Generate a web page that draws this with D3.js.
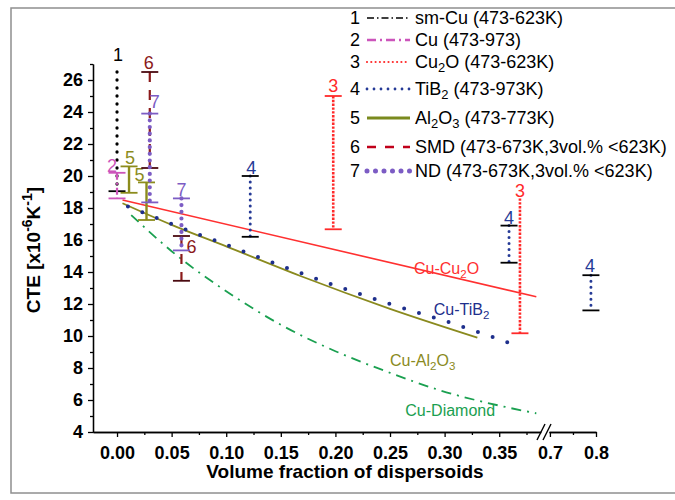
<!DOCTYPE html>
<html>
<head>
<meta charset="utf-8">
<script src="https://cdn.jsdelivr.net/npm/d3@7"></script>
<style>
  body { margin: 0; background: #fff; }
  svg { font-family: Arial, "Liberation Sans", sans-serif; }
</style>
</head>
<body>
<div id="chart"></div>
<script>
// ---- data ----
// fitted curves (volume fraction -> CTE)
const cu2oX = [0.005, 0.384];
const cu2oY = [18.5, 12.45];
const tib2X = [0.01, 0.05, 0.1, 0.15, 0.2, 0.25, 0.3, 0.343, 0.358];
const tib2Y = [18.1, 17.0, 15.7, 14.4, 13.15, 12.0, 10.95, 9.96, 9.6];
const al2o3X = [0.005, 0.05, 0.1, 0.168, 0.25, 0.33];
const al2o3Y = [18.3, 16.95, 15.6, 13.75, 11.7, 9.9];
const diamondX = [0.013, 0.05, 0.11, 0.15, 0.2, 0.25, 0.296, 0.35, 0.384];
const diamondY = [17.56, 15.3, 12.35, 10.7, 9.05, 7.7, 6.6, 5.65, 5.17];

// measured ranges (series number, x, low, high)
const barSeries = [1, 2, 5, 5, 6, 7, 6, 7, 4, 3, 4, 3, 4];
const barX = [0.0, 0.0, 0.011, 0.027, 0.03, 0.03, 0.059, 0.059, 0.122, 0.198, 0.359, 0.369, 0.789];
const barLow = [19.05, 18.6, 18.95, 17.25, 20.5, 18.35, 13.45, 15.35, 16.2, 16.67, 14.58, 10.17, 11.6];
const barHigh = [26.5, 20.2, 20.6, 19.6, 26.5, 23.9, 16.25, 18.6, 20.0, 25.0, 16.9, 18.6, 13.8];

// legend
const legendNums = [1, 2, 3, 4, 5, 6, 7];
const legendLabels = [
  [['sm-Cu (473-623K)', 0]],
  [['Cu (473-973)', 0]],
  [['Cu', 0], ['2', 1], ['O (473-623K)', 0]],
  [['TiB', 0], ['2', 1], [' (473-973K)', 0]],
  [['Al', 0], ['2', 1], ['O', 0], ['3', 1], [' (473-773K)', 0]],
  [['SMD (473-673K,3vol.% <623K)', 0]],
  [['ND (473-673K,3vol.% <623K)', 0]]
];

// axis ticks
const yMajor = [4, 6, 8, 10, 12, 14, 16, 18, 20, 22, 24, 26];
const yMinor = [5, 7, 9, 11, 13, 15, 17, 19, 21, 23, 25, 27];
const xMajorLeft = [0, 0.05, 0.1, 0.15, 0.2, 0.25, 0.3, 0.35];
const xMinorLeft = [0.025, 0.075, 0.125, 0.175, 0.225, 0.275, 0.325, 0.375];
const xMajorRight = [0.7, 0.8];
const xMinorRight = [0.75];

// ---- styles ----
const seriesColor = {1: '#000000', 2: '#cc55bb', 3: '#ff2a2a', 4: '#253a96', 5: '#8c8c1c', 6: '#8b1a1a', 7: '#7c5cc4'};
const capColor = {1: '#000000', 2: '#cc55bb', 3: '#ff2a2a', 4: '#000000', 5: '#8c8c1c', 6: '#4a0a10', 7: '#7c5cc4'};
const barStyle = {
  1: {w: 3.3, dash: '0 8', cap: 'round'},
  2: {w: 2.2, dash: '7 3 2 3', cap: 'butt'},
  3: {w: 2.6, dash: '2.4 1.4', cap: 'butt'},
  4: {w: 3, dash: '0 6', cap: 'round'},
  5: {w: 2.4, dash: null, cap: 'butt'},
  6: {w: 2.2, dash: '10 8', cap: 'butt'},
  7: {w: 4.2, dash: '0 6.7', cap: 'round'}
};
// label offsets (px) relative to the top of each bar
const labelDx = [1, -5, 1, -7, -1, 5, 10, 0, 1, 0, 0, 0, -1];
const labelDy = [-17, -7, -9, -8, -9, -12, 11, -9, -8, -10, -8, -8, -10];
const noTopCap = [0, 11];

const W = 675, H = 500;
const svg = d3.select('#chart').append('svg')
  .attr('width', W)
  .attr('height', H);

// outer frame
svg.append('rect')
  .attr('x', 11).attr('y', 8)
  .attr('width', 720).attr('height', 485)
  .attr('fill', 'none')
  .attr('stroke', '#8f8f8f')
  .attr('stroke-width', 1.5);

// scales: broken x axis
const xLeft = d3.scaleLinear().domain([-0.022, 0.388]).range([93, 540.7]);
const xRight = d3.scaleLinear().domain([0.698, 0.8]).range([549, 596]);
const x = v => (v > 0.5 ? xRight(v) : xLeft(v));
const y = d3.scaleLinear().domain([4, 27]).range([432, 64]);

// axes
function styleAxis(g) {
  g.selectAll('path.domain').attr('stroke', '#000').attr('stroke-width', 1.3);
  g.selectAll('.tick line').attr('stroke', '#000').attr('stroke-width', 1.3);
  g.selectAll('text')
    .attr('font-size', 18)
    .attr('font-weight', 'bold')
    .attr('fill', '#000')
    .attr('font-family', 'Arial, "Liberation Sans", sans-serif');
}

const xAxisLeft = svg.append('g').attr('transform', `translate(0,${y(4)})`)
  .call(d3.axisBottom(xLeft).tickValues(xMajorLeft).tickFormat(d3.format('.2f'))
    .tickSize(5).tickSizeOuter(0).tickPadding(9));
styleAxis(xAxisLeft);
const xAxisLeftMinor = svg.append('g').attr('transform', `translate(0,${y(4)})`)
  .call(d3.axisBottom(xLeft).tickValues(xMinorLeft).tickFormat('').tickSize(3).tickSizeOuter(0));
styleAxis(xAxisLeftMinor);

const xAxisRight = svg.append('g').attr('transform', `translate(0,${y(4)})`)
  .call(d3.axisBottom(xRight).tickValues(xMajorRight).tickFormat(d3.format('.1f'))
    .tickSize(5).tickSizeOuter(0).tickPadding(9));
styleAxis(xAxisRight);
const xAxisRightMinor = svg.append('g').attr('transform', `translate(0,${y(4)})`)
  .call(d3.axisBottom(xRight).tickValues(xMinorRight).tickFormat('').tickSize(3).tickSizeOuter(0));
styleAxis(xAxisRightMinor);

// break marks
const breakG = svg.append('g').attr('stroke', '#000').attr('stroke-width', 1.4);
[537, 543].forEach(bx => {
  breakG.append('line')
    .attr('x1', bx).attr('y1', y(4) + 8)
    .attr('x2', bx + 8).attr('y2', y(4) - 8);
});

const yAxis = svg.append('g').attr('transform', `translate(${xLeft(-0.022)},0)`)
  .call(d3.axisLeft(y).tickValues(yMajor).tickSize(5).tickSizeOuter(0).tickPadding(5));
styleAxis(yAxis);
const yAxisMinor = svg.append('g').attr('transform', `translate(${xLeft(-0.022)},0)`)
  .call(d3.axisLeft(y).tickValues(yMinor).tickFormat('').tickSize(3).tickSizeOuter(0));
styleAxis(yAxisMinor);

// axis titles
svg.append('text')
  .attr('x', 345).attr('y', 478)
  .attr('text-anchor', 'middle')
  .attr('font-size', 19).attr('font-weight', 'bold')
  .text('Volume fraction of dispersoids');

const yTitle = svg.append('text')
  .attr('transform', 'translate(40,250) rotate(-90)')
  .attr('text-anchor', 'middle')
  .attr('font-size', 19).attr('font-weight', 'bold');
yTitle.append('tspan').text('CTE [x10');
yTitle.append('tspan').attr('dy', -8).attr('font-size', 14).text('-6');
yTitle.append('tspan').attr('dy', 8).text('K');
yTitle.append('tspan').attr('dy', -8).attr('font-size', 14).text('-1');
yTitle.append('tspan').attr('dy', 8).text(']');

// fitted curves
const line = d3.line().x(d => x(d[0])).y(d => y(d[1])).curve(d3.curveMonotoneX);
const zip = (xs, ys) => xs.map((v, i) => [v, ys[i]]);

svg.append('path').datum(zip(cu2oX, cu2oY))
  .attr('d', line).attr('fill', 'none')
  .attr('stroke', '#ff3030').attr('stroke-width', 1.6);

svg.append('path').datum(zip(al2o3X, al2o3Y))
  .attr('d', line).attr('fill', 'none')
  .attr('stroke', '#8a8a1e').attr('stroke-width', 1.8);

svg.append('path').datum(zip(tib2X, tib2Y))
  .attr('d', line).attr('fill', 'none')
  .attr('stroke', '#1e2f8c').attr('stroke-width', 4)
  .attr('stroke-linecap', 'round').attr('stroke-dasharray', '0 15.5');

svg.append('path').datum(zip(diamondX, diamondY))
  .attr('d', line).attr('fill', 'none')
  .attr('stroke', '#1aa050').attr('stroke-width', 1.8)
  .attr('stroke-dasharray', '10 6 2 6');

// curve labels
function subText(g, parts, size) {
  parts.forEach(([t, sub]) => {
    if (sub) {
      g.append('tspan').attr('dy', 4).attr('font-size', size * 0.72).text(t);
    } else {
      const ts = g.append('tspan').text(t);
      if (g.node().childNodes.length > 1) ts.attr('dy', -4);
    }
  });
}

const curveLabels = [
  {parts: [['Cu-Cu', 0], ['2', 1], ['O', 0]], color: '#ff3030', at: [0.272, 13.9]},
  {parts: [['Cu-TiB', 0], ['2', 1]], color: '#1e2f8c', at: [0.29, 11.3]},
  {parts: [['Cu-Al', 0], ['2', 1], ['O', 0], ['3', 1]], color: '#8a8a1e', at: [0.25, 8.1]},
  {parts: [['Cu-Diamond', 0]], color: '#1aa050', at: [0.264, 5.0]}
];
curveLabels.forEach(c => {
  const t = svg.append('text')
    .attr('x', x(c.at[0])).attr('y', y(c.at[1]))
    .attr('font-size', 16).attr('fill', c.color);
  subText(t, c.parts, 16);
});

// range bars
const bars = barSeries.map((s, i) => ({s, x: barX[i], lo: barLow[i], hi: barHigh[i], i}));
const barG = svg.append('g');
bars.forEach(b => {
  const st = barStyle[b.s];
  const cx = x(b.x);
  barG.append('line')
    .attr('x1', cx).attr('x2', cx)
    .attr('y1', y(b.hi)).attr('y2', y(b.lo))
    .attr('stroke', seriesColor[b.s])
    .attr('stroke-width', st.w)
    .attr('stroke-linecap', st.cap)
    .attr('stroke-dasharray', st.dash);
  const caps = noTopCap.includes(b.i) ? [b.lo] : [b.lo, b.hi];
  caps.forEach(v => {
    barG.append('line')
      .attr('x1', cx - 8.5).attr('x2', cx + 8.5)
      .attr('y1', y(v)).attr('y2', y(v))
      .attr('stroke', capColor[b.s]).attr('stroke-width', 1.8);
  });
  barG.append('text')
    .attr('x', cx + labelDx[b.i])
    .attr('y', y(b.hi) + labelDy[b.i])
    .attr('dy', '0.36em')
    .attr('text-anchor', 'middle')
    .attr('font-size', 18)
    .attr('fill', seriesColor[b.s])
    .text(b.s);
});

// legend
const legendY = [18, 40, 62, 89, 118, 147, 171];
const legendSample = {
  1: {c: '#000000', w: 1.5, dash: '7 3 1.5 3', cap: 'butt'},
  2: {c: '#cc55bb', w: 2.5, dash: '9 4 2 4', cap: 'butt'},
  3: {c: '#ff2a2a', w: 2.2, dash: '0 4.3', cap: 'round'},
  4: {c: '#253a96', w: 2.8, dash: '0 7', cap: 'round'},
  5: {c: '#7a8a1e', w: 3, dash: null, cap: 'butt'},
  6: {c: '#c0001a', w: 2.5, dash: '9 9', cap: 'butt'},
  7: {c: '#7c5cc4', w: 5, dash: '0 8.5', cap: 'round'}
};
const legend = svg.append('g');
legendNums.forEach((n, i) => {
  const ly = legendY[i];
  legend.append('text')
    .attr('x', 355).attr('y', ly).attr('dy', '0.36em')
    .attr('text-anchor', 'middle')
    .attr('font-size', 18)
    .text(n);
  const st = legendSample[n];
  legend.append('line')
    .attr('x1', 367).attr('x2', 410)
    .attr('y1', ly).attr('y2', ly)
    .attr('stroke', st.c).attr('stroke-width', st.w)
    .attr('stroke-linecap', st.cap)
    .attr('stroke-dasharray', st.dash);
  const t = legend.append('text')
    .attr('x', 415).attr('y', ly).attr('dy', '0.36em')
    .attr('font-size', 18);
  subText(t, legendLabels[i], 18);
});
</script>
</body>
</html>
